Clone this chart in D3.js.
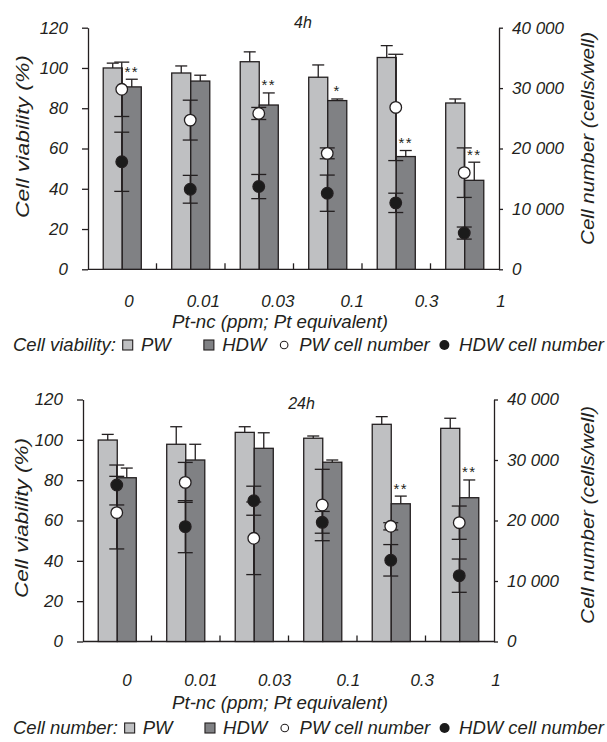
<!DOCTYPE html>
<html><head><meta charset="utf-8">
<script src="https://cdn.jsdelivr.net/npm/d3@7"></script>
<style>
html,body{margin:0;padding:0;background:#fff;}
text{font-family:"Liberation Sans",Arial,sans-serif;font-style:italic;fill:#231f20;}
</style></head><body>
<svg id="c" width="607" height="742"></svg>
<script>
const categories = ["0","0.01","0.03","0.1","0.3","1"];
const leftTicks = [0,20,40,60,80,100,120];
const rightTicks = [0,10000,20000,30000,40000];

// 4h panel
const pw4      = [100, 97.5, 103.1, 95.4, 105.2, 82.6];
const pw4Err   = [2.4, 3.5, 4.9, 6.1, 5.9, 2.0];
const hdw4     = [90.6, 93.5, 81.6, 83.8, 56.0, 44.2];
const hdw4Err  = [3.8, 2.9, 6.0, 0.8, 3.0, 9.0];
const pwN4     = [29800, 24700, 25800, 19200, 26800, 16000];
const pwN4Err  = [4500, 3300, 1000, 900, 8800, 4100];
const hdwN4    = [17800, 13250, 13700, 12600, 11000, 6000];
const hdwN4Err = [4900, 2300, 2000, 3000, 1600, 1000];
const sig4     = ["**","","**","*","**","**"];

// 24h panel
const pw24      = [99.9, 97.8, 103.7, 100.8, 107.7, 105.7];
const pw24Err   = [2.8, 8.7, 2.8, 1.1, 3.8, 5.0];
const hdw24     = [81.2, 90.0, 95.8, 88.9, 68.3, 71.3];
const hdw24Err  = [4.8, 7.8, 7.7, 1.1, 3.8, 8.8];
const pwN24     = [21300, 26300, 17060, 22560, 19040, 19640];
const pwN24Err  = [6000, 3300, 6000, 5900, 600, 2750];
const hdwN24    = [25870, 18980, 23270, 19700, 13420, 10880];
const hdwN24Err = [3300, 4300, 2400, 1800, 2600, 2750];
const sig24     = ["","","","","**","**"];

const legendLabels = ["PW","HDW","PW cell number","HDW cell number"];

const svg = d3.select("#c");
const INK = "#231f20";
const PWC = "#bfc0c2", HDWC = "#808184";
const FONT = '"Liberation Sans",Arial,sans-serif';

function drawPanel(cfg){
  const g = svg.append("g");
  const x = d3.scaleBand().domain(categories).range([cfg.x0, cfg.x1]);
  const sub = d3.scaleBand().domain(["PW","HDW"]).range([0, x.bandwidth()]).paddingOuter(0.8);
  const yL = d3.scaleLinear().domain([0,120]).range([cfg.yB, cfg.yT]);
  const yR = d3.scaleLinear().domain([0,40000]).range([cfg.yB, cfg.yT]);
  const mid = c => x(c) + x.bandwidth()/2;

  // axes
  const ax = g.append("g").attr("transform",`translate(${cfg.x0},0)`)
    .call(d3.axisLeft(yL).tickValues(leftTicks).tickSize(6).tickSizeOuter(0).tickPadding(14));
  const ar = g.append("g").attr("transform",`translate(${cfg.x1},0)`)
    .call(d3.axisRight(yR).tickValues(rightTicks).tickSize(4).tickSizeOuter(0).tickPadding(9)
      .tickFormat(d => d3.format(",")(d).replace(/,/g," ")));
  [ax, ar].forEach(a => {
    a.attr("font-family", FONT).attr("font-size", 17);
    a.selectAll("path,line").attr("stroke", INK).attr("stroke-width", 1.3);
    a.selectAll("text").attr("fill", INK).style("font-style","italic").style("font-size","17px");
  });
  // bottom axis line + inner category ticks
  g.append("line").attr("x1", cfg.x0).attr("x2", cfg.x1).attr("y1", cfg.yB).attr("y2", cfg.yB)
    .attr("stroke", INK).attr("stroke-width", 1.3);
  g.selectAll(".ct").data(categories.slice(1)).join("line")
    .attr("x1", d => x(d)).attr("x2", d => x(d))
    .attr("y1", cfg.yB).attr("y2", cfg.yB - 6).attr("stroke", INK).attr("stroke-width", 1.3);

  // bars
  const series = [
    {k:"PW", v:cfg.pw, e:cfg.pwErr, c:PWC},
    {k:"HDW", v:cfg.hdw, e:cfg.hdwErr, c:HDWC}
  ];
  series.forEach(s => {
    g.selectAll(null).data(categories).join("rect")
      .attr("x", d => x(d) + sub(s.k)).attr("width", sub.bandwidth())
      .attr("y", (d,i) => yL(s.v[i])).attr("height", (d,i) => cfg.yB - yL(s.v[i]))
      .attr("fill", s.c).attr("stroke", INK).attr("stroke-width", 1.3);
  });
  series.forEach(s => {
    categories.forEach((c,i) => {
      const cx = x(c) + sub(s.k) + sub.bandwidth()/2;
      const yt = yL(s.v[i]), ye = yL(s.v[i] + s.e[i]);
      g.append("line").attr("x1",cx).attr("x2",cx).attr("y1",yt).attr("y2",ye)
        .attr("stroke",INK).attr("stroke-width",1.3);
      g.append("line").attr("x1",cx-6).attr("x2",cx+6).attr("y1",ye).attr("y2",ye)
        .attr("stroke",INK).attr("stroke-width",1.3);
    });
  });
  // significance
  g.selectAll(null).data(categories).join("text")
    .attr("x", d => x(d) + sub("HDW") + sub.bandwidth()/2)
    .attr("y", (d,i) => yL(cfg.hdw[i] + cfg.hdwErr[i]) - 11 + 8.5)
    .attr("text-anchor","middle").attr("font-size",15).attr("letter-spacing",1.5)
    .style("font-style","normal").attr("fill","#444")
    .text((d,i) => cfg.sig[i]);

  // cell number error bars + points
  const pts = [
    {v:cfg.pwN, e:cfg.pwNErr, fill:"#fff"},
    {v:cfg.hdwN, e:cfg.hdwNErr, fill:"#1b1b1b"}
  ];
  pts.forEach(p => {
    categories.forEach((c,i) => {
      const cx = mid(c) - 0.5;
      const hi = yR(p.v[i] + p.e[i]), lo = yR(p.v[i] - p.e[i]);
      g.append("line").attr("x1",cx).attr("x2",cx).attr("y1",hi).attr("y2",lo)
        .attr("stroke",INK).attr("stroke-width",1.3);
      [hi,lo].forEach(yy => g.append("line").attr("x1",cx-7.5).attr("x2",cx+7.5)
        .attr("y1",yy).attr("y2",yy).attr("stroke",INK).attr("stroke-width",1.3));
    });
  });
  pts.forEach(p => {
    g.selectAll(null).data(categories).join("circle")
      .attr("cx", d => mid(d) - 0.5).attr("cy", (d,i) => yR(p.v[i]))
      .attr("r", 5.8).attr("fill", p.fill).attr("stroke", INK).attr("stroke-width", 1.3);
  });

  // title
  g.append("text").attr("x", cfg.titleX).attr("y", cfg.titleY).attr("text-anchor","middle")
    .attr("font-size",16).text(cfg.title);
  // axis titles
  g.append("text").attr("transform",`translate(${cfg.lx},${cfg.lcy}) rotate(-90)`)
    .attr("text-anchor","middle").attr("font-size",18)
    .attr("textLength", cfg.lLen).attr("lengthAdjust","spacingAndGlyphs")
    .text("Cell viability (%)");
  g.append("text").attr("transform",`translate(${cfg.rx},${cfg.rcy}) rotate(-90)`)
    .attr("text-anchor","middle").attr("font-size",18)
    .attr("textLength", cfg.rLen).attr("lengthAdjust","spacingAndGlyphs")
    .text("Cell number (cells/well)");

  // x tick labels (placed as in the original figure)
  const xl = d3.scalePoint().domain(categories).range(cfg.labelRange);
  g.selectAll(null).data(categories).join("text")
    .attr("x", d => xl(d)).attr("y", cfg.labelY).attr("text-anchor","middle")
    .attr("font-size",17).text(d => d);
  g.append("text").attr("x", 280).attr("y", cfg.xTitleY).attr("text-anchor","middle")
    .attr("font-size",18).attr("textLength",216).attr("lengthAdjust","spacingAndGlyphs")
    .text("Pt-nc (ppm; Pt equivalent)");

  // legend: flow layout from x=13 to x=604
  const ly = cfg.legendY, fs = 18.5;
  const items = [
    {t:"text", s:cfg.legendTitle},
    {t:"gap", w:5}, {t:"sq", c:PWC}, {t:"gap", w:6}, {t:"text", s:legendLabels[0]},
    {t:"gap", w:24}, {t:"sq", c:HDWC}, {t:"gap", w:6}, {t:"text", s:legendLabels[1]},
    {t:"gap", w:10}, {t:"oc"}, {t:"gap", w:8}, {t:"text", s:legendLabels[2]},
    {t:"gap", w:7}, {t:"fc"}, {t:"gap", w:7}, {t:"text", s:legendLabels[3]}
  ];
  const lg = g.append("g");
  items.forEach(it => {
    if (it.t === "text") {
      it.node = lg.append("text").attr("y", ly).attr("font-size", fs).text(it.s);
      it.w = it.node.node().getComputedTextLength();
    } else if (it.t === "sq") it.w = 10;
    else if (it.t === "oc") it.w = 8;
    else if (it.t === "fc") it.w = 10;
  });
  const total = d3.sum(items, d => d.w);
  const gapTotal = d3.sum(items.filter(d => d.t === "gap"), d => d.w);
  const extra = (591 - total);
  let cx = 13;
  items.forEach(it => {
    const w = it.t === "gap" ? it.w + extra * it.w / gapTotal : it.w;
    if (it.t === "text") it.node.attr("x", cx);
    else if (it.t === "sq") lg.append("rect").attr("x",cx).attr("y",ly-11).attr("width",10).attr("height",10)
      .attr("fill",it.c).attr("stroke",INK).attr("stroke-width",1.1);
    else if (it.t === "oc") lg.append("circle").attr("cx",cx+4).attr("cy",ly-6).attr("r",3.8)
      .attr("fill","#fff").attr("stroke",INK).attr("stroke-width",1.1);
    else if (it.t === "fc") lg.append("circle").attr("cx",cx+5).attr("cy",ly-6).attr("r",5).attr("fill","#1b1b1b");
    cx += w;
  });
}

drawPanel({x0:88, x1:499, yT:27.7, yB:269.3,
  pw:pw4, pwErr:pw4Err, hdw:hdw4, hdwErr:hdw4Err, pwN:pwN4, pwNErr:pwN4Err, hdwN:hdwN4, hdwNErr:hdwN4Err, sig:sig4,
  title:"4h", titleX:303, titleY:28,
  lx:29, lcy:136.5, lLen:163, rx:594, rcy:138.5, rLen:213,
  labelRange:[129,501], labelY:307, xTitleY:328, legendY:351, legendTitle:"Cell viability:"});
drawPanel({x0:83, x1:494, yT:399.5, yB:641.5,
  pw:pw24, pwErr:pw24Err, hdw:hdw24, hdwErr:hdw24Err, pwN:pwN24, pwNErr:pwN24Err, hdwN:hdwN24, hdwNErr:hdwN24Err, sig:sig24,
  title:"24h", titleX:301.5, titleY:409,
  lx:28, lcy:518, lLen:160, rx:594, rcy:515, rLen:218,
  labelRange:[127,496], labelY:686, xTitleY:709, legendY:734, legendTitle:"Cell number:"});
</script>
</body></html>
